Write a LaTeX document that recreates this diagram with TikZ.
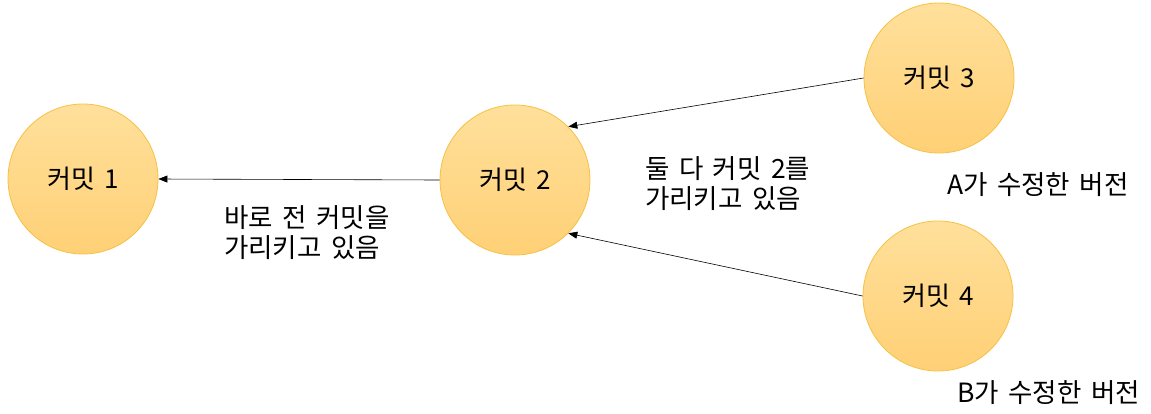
\documentclass[tikz,border=0pt]{standalone}
\usepackage{fontspec}
\setmainfont{Noto Sans CJK KR}[WordSpace={1.6}]
\usetikzlibrary{arrows.meta}
\definecolor{fillTop}{RGB}{255,224,155}
\definecolor{fillBot}{RGB}{255,208,118}
\definecolor{rim}{RGB}{246,192,66}
\tikzset{
  commit/.style={circle, minimum size=150pt, inner sep=0pt, draw=rim, line width=0.8pt,
    top color=fillTop, bottom color=fillBot, font=\fontsize{26}{29}\selectfont},
  lbl/.style={inner sep=0pt, align=left, anchor=west, font=\fontsize{26.5}{30}\selectfont},
  link/.style={-{Triangle[length=9pt,width=7pt]}, line width=0.6pt, black}
}
\begin{document}
\begin{tikzpicture}[x=1pt,y=-1pt]
\useasboundingbox (0,0) rectangle (1151,413);
\node[commit] (c1) at (83,179) {커밋 1};
\node[commit] (c2) at (515,180) {커밋 2};
\node[commit] (c3) at (939,78) {커밋 3};
\node[commit] (c4) at (938,296) {커밋 4};
\draw[link] (c2.west) -- (c1.east);
\draw[link] (c3.west) -- (c2.north east);
\draw[link] (c4.west) -- (c2.south east);
\node[lbl] (l1) at (224,233) {바로 전 커밋을\\가리키고 있음};
\node[lbl] (l2) at (645,184) {둘 다 커밋 2를\\가리키고 있음};
\node[lbl] (la) at (947,185) {A가 수정한 버전};
\node[lbl] (lb) at (957,393) {B가 수정한 버전};
\end{tikzpicture}
\end{document}
